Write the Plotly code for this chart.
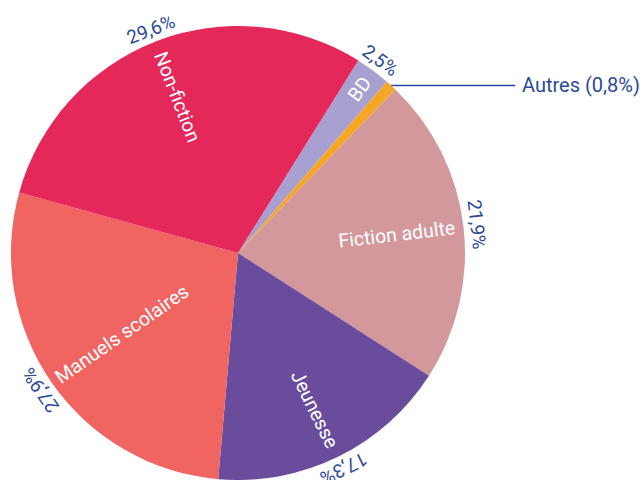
import math
import plotly.graph_objects as go

# Data
categories = ["BD", "Autres", "Fiction adulte", "Jeunesse", "Manuels scolaires", "Non-fiction"]
shares = [2.5, 0.8, 21.9, 17.3, 27.9, 29.6]
pct_labels = ["2,5%", "", "21,9%", "17,3%", "27,9%", "29,6%"]
inside_labels = ["BD", "", "Fiction adulte", "Jeunesse", "Manuels scolaires", "Non-fiction"]
colors = ["#A8A0D0", "#F5A623", "#D2989B", "#6A4C9C", "#F06462", "#E4285A"]

# Layout / style settings
W, H = 643, 480
CX, CY, R = 238, 253, 227
ROT = 32
BLUE = "#2B4A9B"
FONT = "Roboto"
label_radius = {"BD": 204, "Fiction adulte": 160, "Jeunesse": 174,
                "Manuels scolaires": 142, "Non-fiction": 168}

fig = go.Figure(go.Pie(
    labels=categories,
    values=shares,
    sort=False,
    direction="clockwise",
    rotation=ROT,
    marker=dict(colors=colors, line=dict(width=0)),
    textinfo="none",
    domain=dict(x=[(CX - R) / W, (CX + R) / W], y=[1 - (CY + R) / H, 1 - (CY - R) / H]),
    showlegend=False,
    hoverinfo="label+percent",
))


def norm(a):
    return ((a + 180) % 360) - 180


def to_paper(rr, theta_deg):
    t = math.radians(theta_deg)
    px = CX + rr * math.sin(t)
    py = CY - rr * math.cos(t)
    return px / W, 1 - py / H


annotations = []
total = sum(shares)
start = ROT
for cat, v, lab, ilab in zip(categories, shares, pct_labels, inside_labels):
    span = v / total * 360
    mid = start + span / 2
    start += span
    if lab:
        x, y = to_paper(R + 13, mid)
        annotations.append(dict(
            x=x, y=y, xref="paper", yref="paper",
            text=lab, showarrow=False, textangle=norm(mid),
            font=dict(family=FONT, size=19, color=BLUE),
            xanchor="center", yanchor="middle",
        ))
    if ilab:
        x, y = to_paper(label_radius[cat], mid)
        ang = norm(mid - 90)
        if ang > 90:
            ang -= 180
        elif ang < -90:
            ang += 180
        annotations.append(dict(
            x=x, y=y, xref="paper", yref="paper",
            text=ilab, showarrow=False, textangle=ang,
            font=dict(family=FONT, size=19.5, color="white"),
            xanchor="center", yanchor="middle",
        ))
    if cat == "Autres":
        x, y = to_paper(R, mid)
        annotations.append(dict(
            x=x, y=y, xref="paper", yref="paper",
            text="Autres (0,8%)", showarrow=True, arrowhead=0, arrowwidth=1.3,
            arrowcolor=BLUE, ax=124, ay=0, xanchor="left", yanchor="middle",
            borderpad=6,
            font=dict(family=FONT, size=20, color=BLUE),
        ))

fig.update_layout(
    width=W, height=H,
    margin=dict(l=0, r=0, t=0, b=0),
    paper_bgcolor="white", plot_bgcolor="white",
    annotations=annotations,
)

fig.write_html("out.html", config={"displayModeBar": False},
               post_script="document.body.style.margin='0';")
